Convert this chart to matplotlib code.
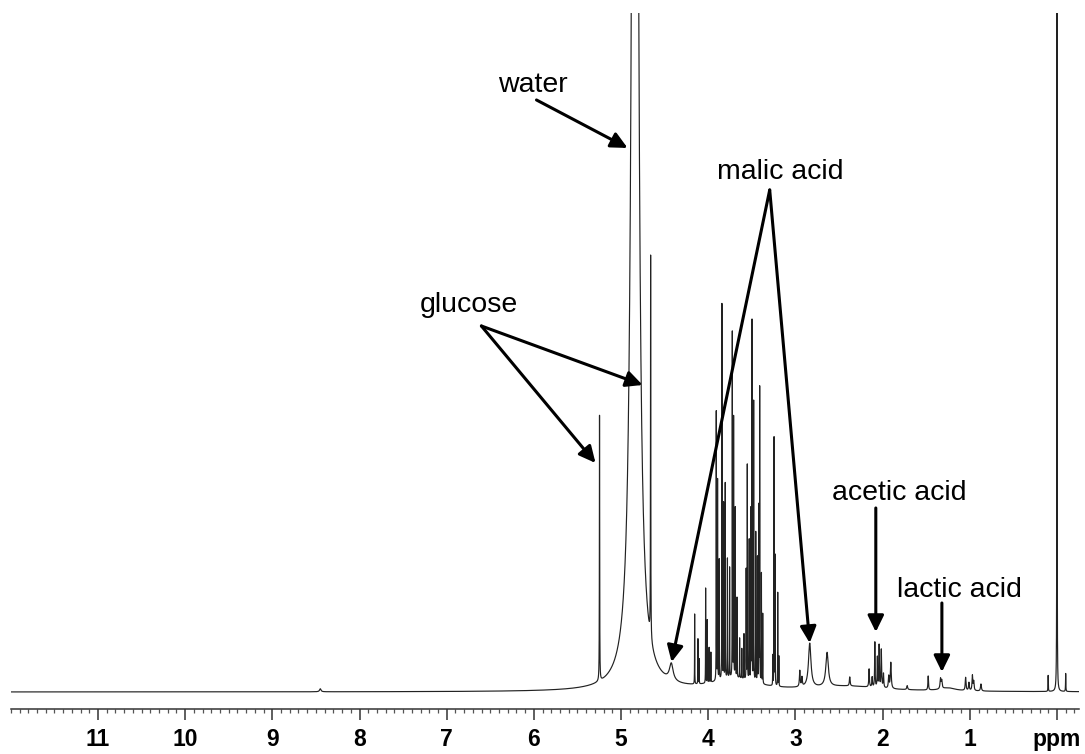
import numpy as np
import matplotlib
matplotlib.use("Agg")
import matplotlib.pyplot as plt
from matplotlib.ticker import MultipleLocator, FixedLocator, FixedFormatter

# ---- 1H NMR peak table (shift in ppm, amplitude in a.u., half width in ppm) ----
water_ppm = [4.84]
water_amp = [2500.0]
water_hw = [0.0265]

glucose_anomeric_ppm = [5.247, 4.661]
glucose_anomeric_amp = [266.0, 383.0]
glucose_anomeric_hw = [0.0018, 0.0018]

sugar_ring_ppm = [4.156, 4.118, 4.105, 4.030, 4.011, 3.990, 3.970, 3.908, 3.893,
                  3.874, 3.843, 3.824, 3.805, 3.780, 3.755, 3.724,
                  3.709, 3.690, 3.670, 3.640, 3.615, 3.590, 3.565,
                  3.552, 3.530, 3.510, 3.498, 3.479, 3.455, 3.435,
                  3.420, 3.410, 3.390, 3.375, 3.260, 3.245, 3.233, 3.203, 3.190]
sugar_ring_amp = [70, 45, 25, 95, 63, 35, 30, 270, 200,
                  120, 375, 175, 195, 120, 110, 345,
                  260, 170, 80, 40, 30, 45, 110,
                  215, 140, 170, 360, 280, 150, 125,
                  175, 295, 110, 70, 30, 248, 130, 94, 30]
sugar_ring_hw = [0.0012] * len(sugar_ring_ppm)

acid_ppm = [4.424, 2.950, 2.925, 2.836, 2.637, 2.377, 2.155, 2.120, 2.089,
            2.060, 2.040, 2.015, 1.990, 1.930, 1.906, 1.718, 1.477, 1.336, 1.322]
acid_amp = [17, 16, 9, 44, 34, 9, 18, 10, 45, 30, 42, 38, 14, 12, 26, 4, 14, 10, 8]
acid_hw = [0.025, 0.005, 0.005, 0.017, 0.017, 0.005, 0.004, 0.004, 0.003,
           0.003, 0.003, 0.004, 0.004, 0.005, 0.006, 0.006, 0.004, 0.006, 0.006]

aliphatic_ppm = [1.048, 1.010, 0.970, 0.955, 0.872, 8.450]
aliphatic_amp = [13, 8, 15, 9, 7, 3]
aliphatic_hw = [0.005, 0.005, 0.005, 0.005, 0.006, 0.01]

reference_ppm = [0.101, 0.000, -0.100]
reference_amp = [16, 900, 18]
reference_hw = [0.002, 0.0015, 0.002]

# broad underlying humps of the crowded regions
broad_ppm = [3.70, 2.40, 1.25]
broad_amp = [12, 5, 3]
broad_hw = [0.30, 0.50, 0.10]

tick_values = [0, 1, 2, 3, 4, 5, 6, 7, 8, 9, 10, 11]
tick_labels = ["ppm", "1", "2", "3", "4", "5", "6", "7", "8", "9", "10", "11"]

# ---- build the spectrum from Lorentzian lines ----
shift = np.linspace(12.0, -0.25, 60000)
centers = np.array(water_ppm + glucose_anomeric_ppm + sugar_ring_ppm + acid_ppm
                   + aliphatic_ppm + reference_ppm + broad_ppm)
amps = np.array(water_amp + glucose_anomeric_amp + sugar_ring_amp + acid_amp
                + aliphatic_amp + reference_amp + broad_amp, dtype=float)
widths = np.array(water_hw + glucose_anomeric_hw + sugar_ring_hw + acid_hw
                  + aliphatic_hw + reference_hw + broad_hw)

intensity = np.zeros_like(shift)
for c, a, w in zip(centers, amps, widths):
    intensity += a * w**2 / (w**2 + (shift - c) ** 2)

# ---- figure ----
fig = plt.figure(figsize=(10.85, 7.54), dpi=100)
ax = fig.add_axes([0.00995, 0.0597, 0.9843, 0.9231])
ax.plot(shift, intensity, color="#222222", lw=0.85, solid_joinstyle="round")
ax.set_xlim(12.0, -0.25)
ax.set_ylim(-17, 679)

for s in ("left", "right", "top"):
    ax.spines[s].set_visible(False)
ax.spines["bottom"].set_linewidth(1.1)
ax.spines["bottom"].set_color("#333333")
ax.set_yticks([])

ax.xaxis.set_major_locator(FixedLocator(tick_values))
ax.xaxis.set_major_formatter(FixedFormatter(tick_labels))
ax.xaxis.set_minor_locator(MultipleLocator(0.1))
ax.tick_params(axis="x", which="major", direction="out", length=8, width=1.1,
               color="#333333", pad=6)
ax.tick_params(axis="x", which="minor", direction="out", length=3, width=0.9,
               color="#555555")
for lab in ax.get_xticklabels():
    lab.set_fontfamily("Liberation Sans")
    lab.set_fontweight("bold")
    lab.set_fontsize(16.5)

# ---- annotations ----
txt = dict(family="Liberation Sans", fontsize=20.5, color="black", va="baseline")
arrow = dict(arrowstyle="-|>,head_length=0.45,head_width=0.22", color="black",
             lw=2.2, shrinkA=0, shrinkB=0, mutation_scale=22)

ax.text(6.010, 600, "water", ha="center", **txt)
ax.annotate("", xy=(4.925, 544), xytext=(5.970, 592), arrowprops=arrow)

ax.text(6.751, 380, "glucose", ha="center", **txt)
ax.annotate("", xy=(5.293, 229), xytext=(6.602, 366), arrowprops=arrow)
ax.annotate("", xy=(4.753, 307), xytext=(6.602, 366), arrowprops=arrow)

ax.text(3.169, 513, "malic acid", ha="center", **txt)
ax.annotate("", xy=(4.420, 30), xytext=(3.295, 502), arrowprops=arrow)
ax.annotate("", xy=(2.836, 49), xytext=(3.295, 502), arrowprops=arrow)

ax.text(2.583, 192, "acetic acid", ha="left", **txt)
ax.annotate("", xy=(2.078, 60), xytext=(2.078, 184), arrowprops=arrow)

ax.text(1.119, 95, "lactic acid", ha="center", **txt)
ax.annotate("", xy=(1.320, 20), xytext=(1.320, 89), arrowprops=arrow)

fig.savefig("out.png", dpi=100, facecolor="white")
